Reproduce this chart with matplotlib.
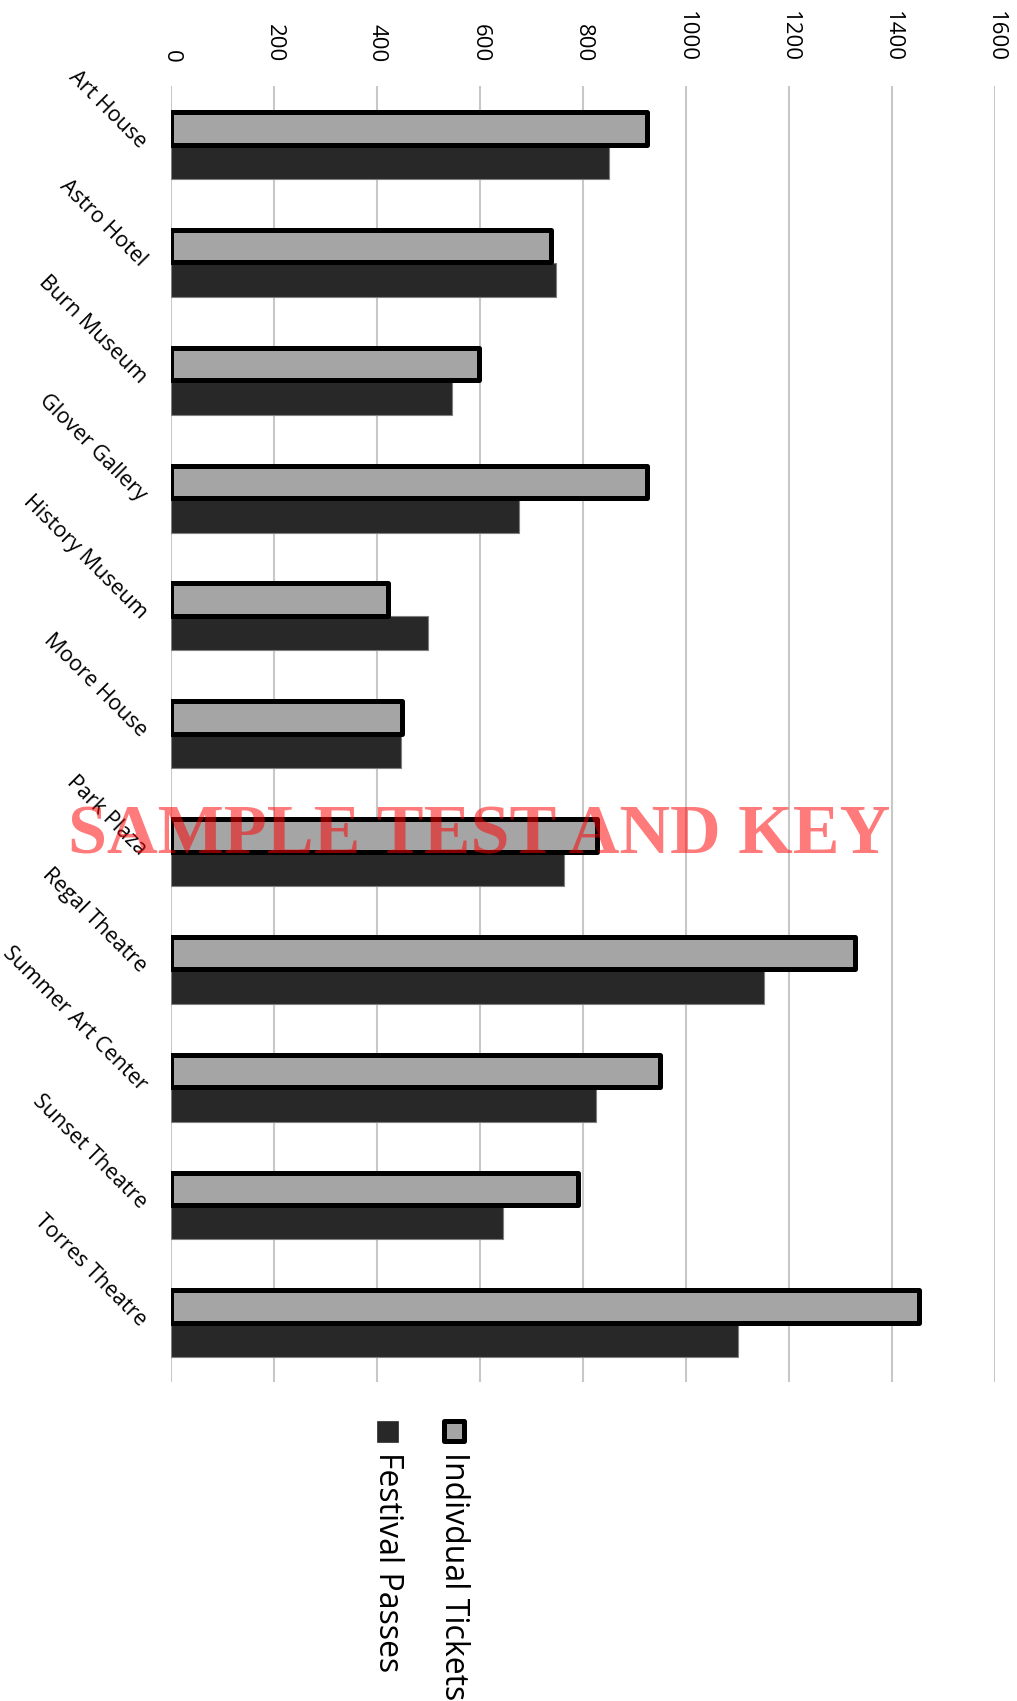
import matplotlib
matplotlib.use('Agg')
import matplotlib.pyplot as plt
from matplotlib.patches import Rectangle
import numpy as np

plt.rcParams['font.family'] = ['Open Sans', 'DejaVu Sans']

# datos
salas = ['Art House', 'Astro Hotel', 'Burn Museum', 'Glover Gallery', 'History Museum',
         'Moore House', 'Park Plaza', 'Regal Theatre', 'Summer Art Center',
         'Sunset Theatre', 'Torres Theatre']
entradas_individuales = [924, 738, 598, 924, 422, 448, 827, 1328, 949, 790, 1452]
pases_festival = [851, 748, 546, 675, 499, 447, 763, 1151, 825, 644, 1100]
marcas_x = [0, 200, 400, 600, 800, 1000, 1200, 1400, 1600]

W, H = 1017, 1701


def fx(px):
    return px / W


def fy(py):
    return 1 - py / H


fig = plt.figure(figsize=(W / 100, H / 100), dpi=100)
ax = fig.add_axes([fx(171), fy(1382), fx(995) - fx(171), fy(86) - fy(1382)])

y = np.arange(len(salas))
ax.barh(y + 0.145, pases_festival, height=0.29, color='#282828',
        edgecolor='#7f7f7f', linewidth=0.8, zorder=2)
ax.barh(y - 0.14, entradas_individuales, height=0.275, color='#a5a5a5',
        edgecolor='black', linewidth=3.6, zorder=3, joinstyle='round')

ax.set_xlim(0, 1600)
ax.set_ylim(len(salas) - 0.5, -0.5)
ax.set_xticks(marcas_x)
ax.xaxis.tick_top()
ax.set_xticklabels([str(m) for m in marcas_x], rotation=-90, fontsize=16)
ax.set_yticks(y)
ax.set_yticklabels(salas, rotation=-45, ha='right', va='center',
                   rotation_mode='anchor', fontsize=15.5)
ax.tick_params(axis='x', length=0, pad=17)
ax.tick_params(axis='y', length=0, pad=20)
ax.grid(axis='x', color='#c8c8c8', linewidth=1.5)
ax.set_axisbelow(True)
for s in ax.spines.values():
    s.set_visible(False)

# leyenda hecha a mano (vertical)
fig.add_artist(Rectangle((fx(444), fy(1441)), fx(20), fy(0) - fy(20),
                         transform=fig.transFigure, facecolor='#a5a5a5',
                         edgecolor='black', linewidth=3.6, joinstyle='round'))
fig.add_artist(Rectangle((fx(377), fy(1442)), fx(21), fy(0) - fy(21),
                         transform=fig.transFigure, facecolor='#282828',
                         edgecolor='#282828', linewidth=0.5))
fig.text(fx(453.5), fy(1452), 'Indivdual Tickets', rotation=-90, ha='center',
         va='top', fontsize=23)
fig.text(fx(387.5), fy(1452), 'Festival Passes', rotation=-90, ha='center',
         va='top', fontsize=23)

# marca de agua
fig.text(fx(479.5), fy(853), 'SAMPLE TEST AND KEY', ha='center', va='baseline',
         fontsize=50.5, fontweight='bold', color='#ff0000', alpha=0.52,
         family='Liberation Serif', zorder=10)

fig.savefig('out.png', dpi=100)
